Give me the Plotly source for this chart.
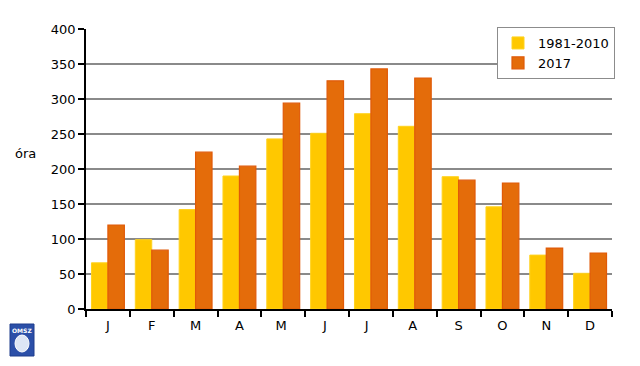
import plotly.graph_objects as go

months = ["J", "F", "M", "A", "M ", "J ", "J  ", "A ", "S", "O", "N", "D"]
normal_1981_2010 = [66, 99, 142, 190, 243, 251, 279, 261, 189, 146, 77, 51]
year_2017 = [120, 84, 224, 204, 294, 326, 343, 330, 184, 180, 87, 80]
y_ticks = [0, 50, 100, 150, 200, 250, 300, 350, 400]

# page body has an 8px margin, so the figure is drawn at (8, 8)
OFF = 8
W, H = 640 - OFF, 366 - OFF
L, R, T, B = 86 - OFF, 28, 29 - OFF, 57
PW, PH = W - L - R, H - T - B


def px_x(x):
    return (x - OFF - L) / PW


def px_y(y):
    return (H - B - (y - OFF)) / PH


fig = go.Figure()
fig.add_trace(go.Bar(x=months, y=normal_1981_2010, name="1981-2010",
                     marker=dict(color="#FFC800", line=dict(color="#FFD21E", width=1))))
fig.add_trace(go.Bar(x=months, y=year_2017, name="2017",
                     marker=dict(color="#E46C0A", line=dict(color="#E05A08", width=1.2))))

fig.update_layout(
    width=W, height=H,
    margin=dict(l=L, r=R, t=T, b=B, autoexpand=False),
    paper_bgcolor="white", plot_bgcolor="white",
    barmode="group", bargap=0.25, bargroupgap=0,
    font=dict(family="DejaVu Sans", size=13, color="black"),
    showlegend=True,
    legend=dict(x=px_x(497), y=px_y(27), xanchor="left", yanchor="top",
                bordercolor="#8c8c8c", borderwidth=1, bgcolor="white",
                font=dict(size=13), itemwidth=30, tracegroupgap=2),
    xaxis=dict(type="category", showline=True, linecolor="black", linewidth=1.5,
               ticks="outside", tickson="boundaries", ticklen=6, tickcolor="black",
               tickwidth=1.5, showgrid=False, tickfont=dict(size=13), ticklabelstandoff=4),
    yaxis=dict(range=[0, 400], tickvals=y_ticks, showline=True, linecolor="black",
               linewidth=1.5, ticks="outside", ticklen=6, tickcolor="black", tickwidth=1.5,
               showgrid=True, gridcolor="#8a8a8a", gridwidth=1.5, zeroline=False,
               tickfont=dict(size=13)),
    annotations=[
        dict(text="óra", xref="paper", yref="paper", x=px_x(38), y=px_y(153),
             xanchor="right", yanchor="middle", showarrow=False, font=dict(size=13)),
        dict(text="<b>OMSZ</b>", xref="paper", yref="paper",
             x=px_x(22), y=px_y(330),
             xanchor="center", yanchor="middle", showarrow=False,
             font=dict(size=6, color="white")),
    ],
    shapes=[
        dict(type="rect", xref="paper", yref="paper",
             x0=px_x(10), x1=px_x(34), y0=px_y(356), y1=px_y(324),
             fillcolor="#2B4FA8", line=dict(color="#1E3C8C", width=1)),
        dict(type="circle", xref="paper", yref="paper",
             x0=px_x(15), x1=px_x(29), y0=px_y(352), y1=px_y(335),
             fillcolor="#DDE6F5", line=dict(color="white", width=1)),
    ],
)

fig.write_html("out.html")
